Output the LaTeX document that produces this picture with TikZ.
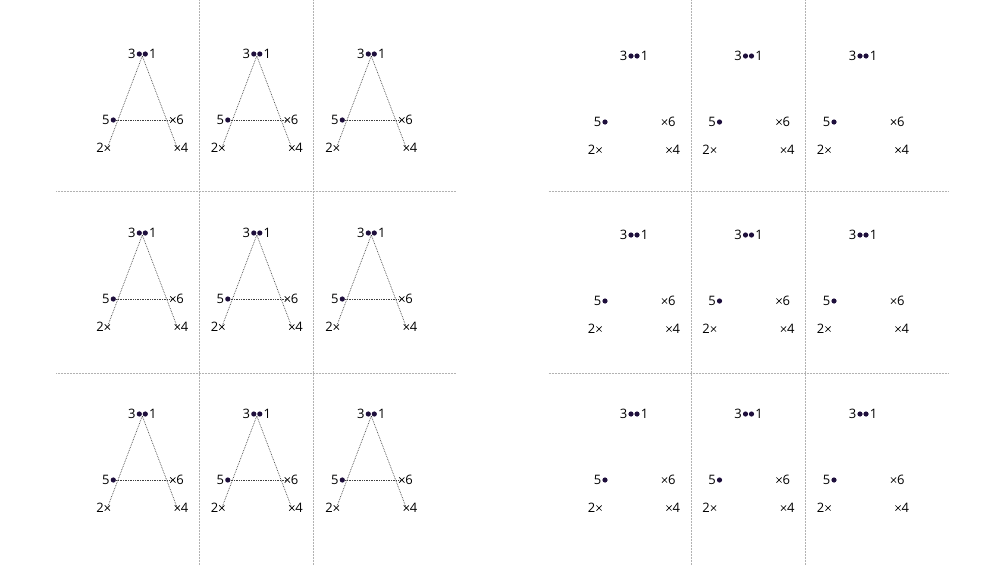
\documentclass[tikz,border=0pt]{standalone}
\usepackage{fontspec}
\setmainfont{Open Sans}
\usetikzlibrary{shapes.misc}
\definecolor{dotpurple}{HTML}{1E0F3C}

% the six stroke points of one glyph A, #1 = name prefix, (#2,#3) = top
\newcommand\glyphpoints[3]{%
  \node [pt dot, label=left:3] (#1-3) at (#2-3,#3) {};
  \node [pt dot, label=right:1] (#1-1) at (#2+3,#3) {};
  \node [pt dot, label=left:5] (#1-5) at (#2-29,#3+66) {};
  \node [x mark, label=right:6] (#1-6) at (#2+30.5,#3+66) {};
  \node [x mark, label=left:2] (#1-2) at (#2-35,#3+94) {};
  \node [x mark, label=right:4] (#1-4) at (#2+35,#3+94) {};
  \coordinate (#1-top) at (#2,#3+2);
}

\begin{document}
\begin{tikzpicture}[x=1pt,y=-1pt,
  grid line/.style={draw=gray!60, densely dotted, line width=0.5pt},
  stroke/.style={draw=black!75, densely dotted, line width=0.7pt},
  pt dot/.style={circle, fill=dotpurple, inner sep=0pt, minimum size=5.2pt},
  x mark/.style={cross out, draw=black, line width=0.7pt, inner sep=0pt, minimum size=4.5pt},
  every label/.style={font=\fontsize{13}{15}\selectfont, inner sep=0.8pt},
  label distance=0pt,
  ]
  \useasboundingbox (0,0) rectangle (1005,565);

  % left sheet: points joined into strokes
  \draw[grid line] (56,191.5) -- (456,191.5);
  \draw[grid line] (56,373) -- (456,373);
  \draw[grid line] (199,0) -- (199,565);
  \draw[grid line] (313.3,0) -- (313.3,565);
  \foreach \cx [count=\i] in {142.3,256.8,371.3}
    \foreach \cy [count=\j] in {54,233,414} {
      \glyphpoints{a\i\j}{\cx}{\cy}
      \draw[stroke] (a\i\j-2.center) -- (a\i\j-top) -- (a\i\j-4.center);
      \draw[stroke] (a\i\j-5) -- (a\i\j-6.center);
    }

  % right sheet: points only
  \draw[grid line] (548.5,191.5) -- (948.5,191.5);
  \draw[grid line] (548.5,373) -- (948.5,373);
  \draw[grid line] (691.3,0) -- (691.3,565);
  \draw[grid line] (805.7,0) -- (805.7,565);
  \foreach \cx [count=\i] in {634,748.5,863}
    \foreach \cy [count=\j] in {56,235,414} {
      \glyphpoints{b\i\j}{\cx}{\cy}
    }
\end{tikzpicture}
\end{document}
